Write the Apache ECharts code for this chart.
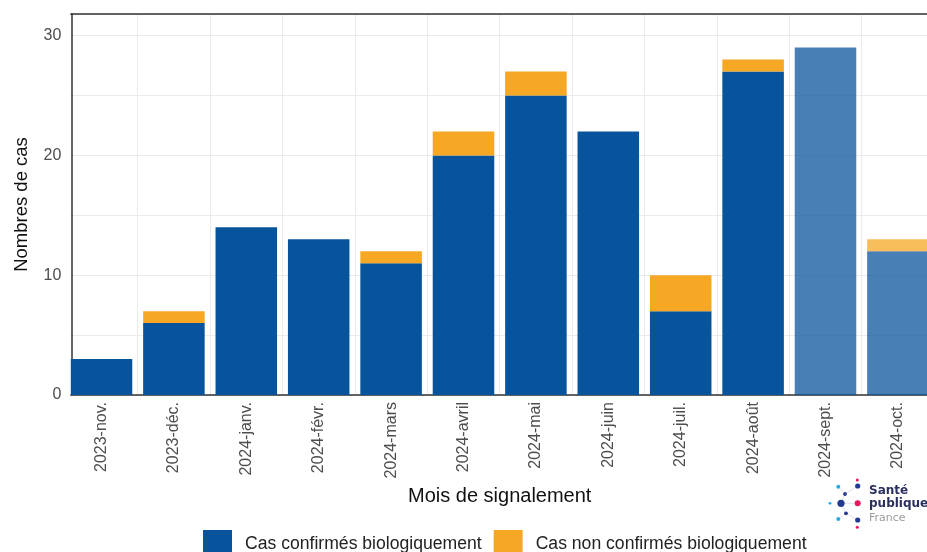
<!DOCTYPE html>
<html>
<head>
<meta charset="utf-8">
<script src="https://cdn.jsdelivr.net/npm/echarts@6/dist/echarts.min.js"></script>
<style>
html,body{margin:0;padding:0;background:#fff;overflow:hidden;width:927px;height:552px;}
#chart{width:940px;height:552px;}
</style>
</head>
<body>
<div id="chart"></div>
<script>
// ---- data ----
const categories = ['2023-nov.','2023-déc.','2024-janv.','2024-févr.','2024-mars','2024-avril','2024-mai','2024-juin','2024-juil.','2024-août','2024-sept.','2024-oct.'];
const confirmes = [3, 6, 14, 13, 11, 20, 25, 22, 7, 27, 29, 12];
const nonConfirmes = [0, 1, 0, 0, 1, 2, 2, 0, 3, 1, 0, 1];
const provisionalMonths = ['2024-sept.','2024-oct.'];
const yTicks = [0, 10, 20, 30];

const BLUE = '#08549c';
const ORANGE = '#f6a723';

function toItems(values) {
  return values.map((v, i) => ({
    value: v,
    itemStyle: provisionalMonths.indexOf(categories[i]) >= 0 ? { opacity: 0.74 } : {}
  }));
}

const chart = echarts.init(document.getElementById('chart'), null, { renderer: 'canvas' });

const font = 'Liberation Sans, Arial, Helvetica, sans-serif';

const option = {
  animation: false,
  backgroundColor: '#fff',
  textStyle: { fontFamily: font },
  grid: { left: 65.3, top: 14, width: 868.8, bottom: 157, containLabel: false },
  legend: {
    left: 203,
    top: 530,
    padding: 0,
    itemWidth: 29,
    itemHeight: 29,
    itemGap: 12,
    icon: 'rect',
    textStyle: { fontSize: 17.6, color: '#222', fontFamily: font, padding: [0, 0, 0, 8] },
    data: ['Cas confirmés biologiquement', 'Cas non confirmés biologiquement']
  },
  xAxis: [{
    type: 'category',
    data: categories,
    position: 'bottom',
    boundaryGap: true,
    name: 'Mois de signalement',
    nameLocation: 'middle',
    nameGap: 84,
    nameTextStyle: { fontSize: 20, color: '#111', fontFamily: font },
    axisLine: { show: true, lineStyle: { color: '#333', width: 1.5 } },
    axisTick: { show: false },
    axisLabel: { rotate: 90, fontSize: 16, color: '#4d4d4d', margin: 7, fontFamily: font },
    splitLine: { show: true, interval: 0, lineStyle: { color: '#ebebeb', width: 1 } }
  }, {
    type: 'category',
    data: categories,
    position: 'top',
    axisLine: { show: true, lineStyle: { color: '#333', width: 1.5 } },
    axisTick: { show: false },
    axisLabel: { show: false },
    splitLine: { show: false }
  }],
  yAxis: {
    type: 'value',
    min: 0,
    max: 31.8,
    interval: 5,
    offset: -6,
    name: 'Nombres de cas',
    nameLocation: 'middle',
    nameGap: 40,
    nameTextStyle: { fontSize: 18.5, color: '#111', fontFamily: font },
    axisLine: { show: true, lineStyle: { color: '#333', width: 1.5 } },
    axisTick: { show: false },
    axisLabel: {
      fontSize: 16, color: '#4d4d4d', margin: 10, fontFamily: font,
      formatter: v => (yTicks.indexOf(v) >= 0 ? String(v) : '')
    },
    splitLine: { show: true, lineStyle: { color: '#ebebeb', width: 1 } }
  },
  series: [{
    name: 'Cas confirmés biologiquement',
    type: 'bar',
    stack: 'cas',
    barCategoryGap: '15%',
    itemStyle: { color: BLUE },
    data: toItems(confirmes)
  }, {
    name: 'Cas non confirmés biologiquement',
    type: 'bar',
    stack: 'cas',
    barCategoryGap: '15%',
    itemStyle: { color: ORANGE },
    data: toItems(nonConfirmes)
  }],
  graphic: [
    // cover gridline stubs left of the y axis line
    { type: 'rect', z: 100, shape: { x: 62, y: 8, width: 8.3, height: 392 }, style: { fill: '#fff' } },
    // logo connector lines
    { type: 'polyline', z: 100, shape: { points: [[838.3,486.7],[845,494],[841,503.3],[846,513.3],[838.3,519]] }, style: { stroke: '#c9cde0', lineWidth: 0.6, fill: null } },
    { type: 'polyline', z: 100, shape: { points: [[857.7,486],[845,494]] }, style: { stroke: '#c9cde0', lineWidth: 0.6, fill: null } },
    { type: 'polyline', z: 100, shape: { points: [[857.7,520],[846,513.3]] }, style: { stroke: '#c9cde0', lineWidth: 0.6, fill: null } },
    { type: 'polyline', z: 100, shape: { points: [[841,503.3],[857.7,503.3]] }, style: { stroke: '#c9cde0', lineWidth: 0.6, fill: null } },
    // logo dots
    { type: 'circle', z: 101, shape: { cx: 857.3, cy: 480, r: 1.5 }, style: { fill: '#e6195c' } },
    { type: 'circle', z: 101, shape: { cx: 838.3, cy: 486.7, r: 2 }, style: { fill: '#2ba9e0' } },
    { type: 'circle', z: 101, shape: { cx: 857.7, cy: 486, r: 2.6 }, style: { fill: '#233a8f' } },
    { type: 'circle', z: 101, shape: { cx: 845, cy: 494, r: 1.9 }, style: { fill: '#233a8f' } },
    { type: 'circle', z: 101, shape: { cx: 830, cy: 503.3, r: 1.4 }, style: { fill: '#2ba9e0' } },
    { type: 'circle', z: 101, shape: { cx: 841, cy: 503.3, r: 3.6 }, style: { fill: '#233a8f' } },
    { type: 'circle', z: 101, shape: { cx: 857.7, cy: 503.3, r: 3 }, style: { fill: '#e6195c' } },
    { type: 'circle', z: 101, shape: { cx: 846, cy: 513.3, r: 1.9 }, style: { fill: '#233a8f' } },
    { type: 'circle', z: 101, shape: { cx: 838.3, cy: 519, r: 2 }, style: { fill: '#2ba9e0' } },
    { type: 'circle', z: 101, shape: { cx: 857.7, cy: 520, r: 2.6 }, style: { fill: '#233a8f' } },
    { type: 'circle', z: 101, shape: { cx: 857.3, cy: 527.3, r: 1.5 }, style: { fill: '#e6195c' } },
    // logo text
    { type: 'text', z: 101, style: { x: 869, y: 491, text: 'Santé', font: 'bold 12px "DejaVu Sans", sans-serif', fill: '#2a2f5e', verticalAlign: 'middle', textVerticalAlign: 'middle' } },
    { type: 'text', z: 101, style: { x: 869, y: 504, text: 'publique', font: 'bold 12px "DejaVu Sans", sans-serif', fill: '#2a2f5e', verticalAlign: 'middle', textVerticalAlign: 'middle' } },
    { type: 'text', z: 101, style: { x: 869, y: 518, text: 'France', font: '11px "DejaVu Sans", sans-serif', fill: '#9a9a9a', verticalAlign: 'middle', textVerticalAlign: 'middle' } }
  ]
};

chart.setOption(option);
</script>
</body>
</html>
